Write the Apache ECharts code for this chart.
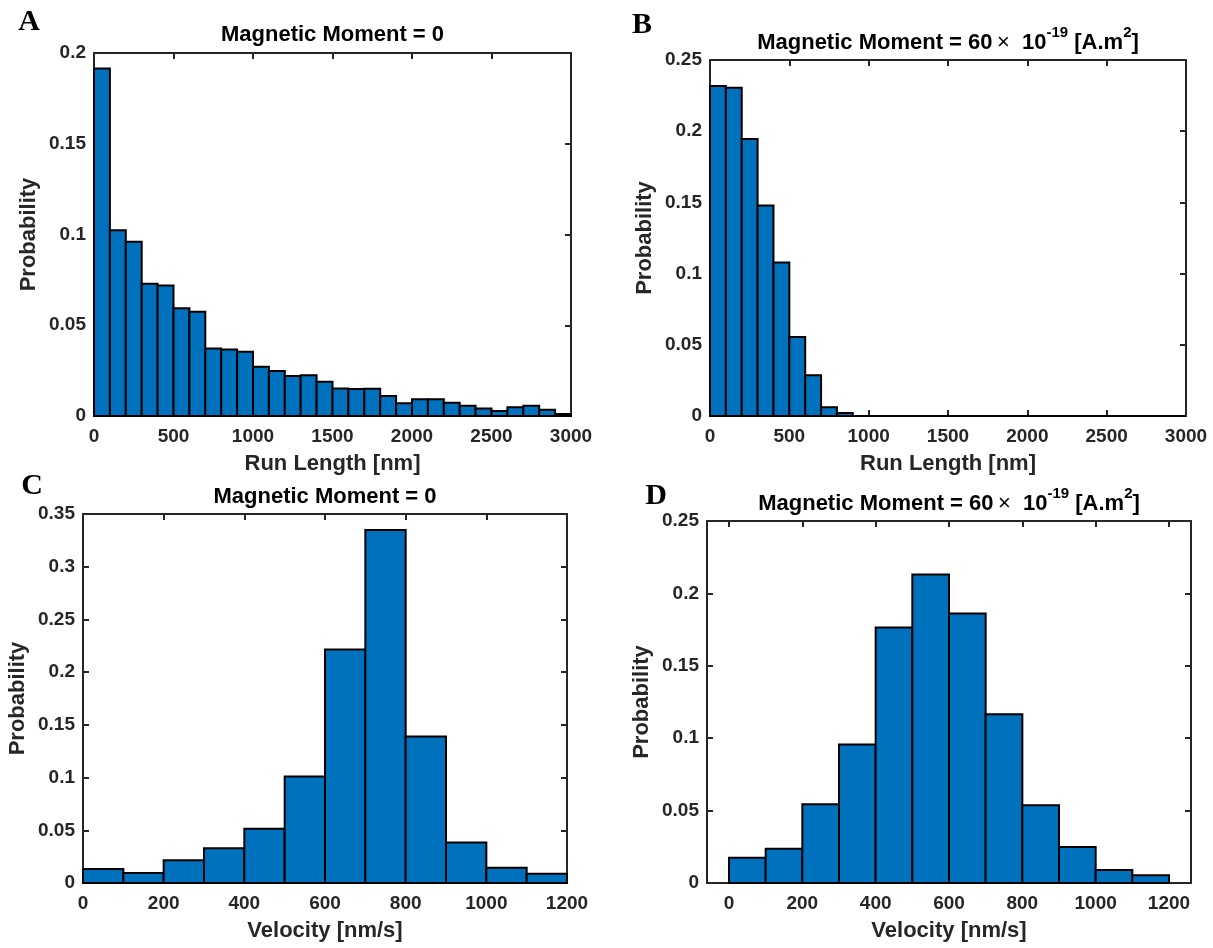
<!DOCTYPE html>
<html><head><meta charset="utf-8">
<script src="https://cdn.jsdelivr.net/npm/echarts@6/dist/echarts.min.js"></script>
<style>html,body{margin:0;padding:0;background:#fff}#c{width:1213px;height:948px}</style>
</head><body><div id="c"></div>
<script>
// ---- data ----
const binWidth = 100;
const runLengthProbA = [0.1914,0.1024,0.0960,0.0728,0.0719,0.0593,0.0574,0.0372,0.0367,0.0354,
  0.0272,0.0248,0.0220,0.0224,0.0189,0.0152,0.0149,0.0150,0.0110,0.0070,
  0.0092,0.0092,0.0073,0.0057,0.0042,0.0028,0.0048,0.0057,0.0035,0.0011];
const runLengthProbB = [0.2317,0.2306,0.1945,0.1478,0.1078,0.0555,0.0286,0.0061,0.0021,0,
  0,0,0,0,0,0,0,0,0,0, 0,0,0,0,0,0,0,0,0,0];
const velocityProbC = [0.0133,0.0095,0.0215,0.0329,0.0515,0.1011,0.2214,0.3348,0.1390,0.0385,0.0145,0.0088];
const velocityProbD = [0.0175,0.0237,0.0544,0.0956,0.1765,0.2131,0.1862,0.1166,0.0537,0.0249,0.0090,0.0053];
const runLengthTicks = [0,500,1000,1500,2000,2500,3000];
const velocityTicks = [0,200,400,600,800,1000,1200];
const titleZero = 'Magnetic Moment = 0';
const titleMag = '{n|Magnetic Moment = 60}{x|\u2009\u00d7}{n|  10}{s|-19}{n| [A.m}{s|2}{n|]}';

// ---- layout ----
const FONT = 'Liberation Sans, Arial, Helvetica, sans-serif';
const AX = '#262626';
const panels = [
  {left:94, top:53, width:477, height:363, data:runLengthProbA, xmin:0, xmax:3000, ticks:runLengthTicks, ymax:0.2, yint:0.05, xname:'Run Length [nm]', title:titleZero, letter:'A', lx:29, ly:22, ty:35},
  {left:710, top:60, width:476, height:356, data:runLengthProbB, xmin:0, xmax:3000, ticks:runLengthTicks, ymax:0.25, yint:0.05, xname:'Run Length [nm]', title:titleMag, letter:'B', lx:642, ly:25, ty:39.5},
  {left:83, top:514, width:484, height:369, data:velocityProbC, xmin:0, xmax:1200, ticks:velocityTicks, ymax:0.35, yint:0.05, xname:'Velocity [nm/s]', title:titleZero, letter:'C', lx:32, ly:486, ty:497},
  {left:707, top:521, width:484, height:362, data:velocityProbD, xmin:-60, xmax:1260, ticks:velocityTicks, ymax:0.25, yint:0.05, xname:'Velocity [nm/s]', title:titleMag, letter:'D', lx:656, ly:496, ty:500.5}
];

const grid = [], xAxis = [], yAxis = [], series = [], graphic = [];
const lineStyle = {color: AX, width: 2};
const tickStyle = {show: true, inside: true, length: 6, lineStyle: {color: AX, width: 2}};
const labelFmt = v => String(+v.toFixed(4));
panels.forEach((p, g) => {
  grid.push({left: p.left, top: p.top, width: p.width, height: p.height, containLabel: false});
  const xTick = Object.assign({}, tickStyle, {customValues: p.ticks});
  xAxis.push({gridIndex: g, type: 'value', min: p.xmin, max: p.xmax, position: 'bottom',
    axisLine: {show: true, onZero: false, lineStyle},
    axisTick: xTick, splitLine: {show: false},
    axisLabel: {show: true, customValues: p.ticks, formatter: labelFmt, margin: 11, color: AX, fontSize: 19, fontWeight: 'bold', fontFamily: FONT},
    name: p.xname, nameLocation: 'middle', nameGap: 37,
    nameTextStyle: {color: AX, fontSize: 22, fontWeight: 'bold', fontFamily: FONT}});
  xAxis.push({gridIndex: g, type: 'value', min: p.xmin, max: p.xmax, position: 'top',
    axisLine: {show: true, onZero: false, lineStyle},
    axisTick: xTick, splitLine: {show: false}, axisLabel: {show: false, customValues: p.ticks}});
  yAxis.push({gridIndex: g, type: 'value', min: 0, max: p.ymax, interval: p.yint, position: 'left',
    axisLine: {show: true, onZero: false, lineStyle},
    axisTick: tickStyle, splitLine: {show: false},
    axisLabel: {show: true, formatter: labelFmt, margin: 8, color: AX, fontSize: 19, fontWeight: 'bold', fontFamily: FONT, showMinLabel: true, showMaxLabel: true},
    name: 'Probability', nameLocation: 'middle', nameGap: 54, nameRotate: 90,
    nameTextStyle: {color: AX, fontSize: 22, fontWeight: 'bold', fontFamily: FONT}});
  yAxis.push({gridIndex: g, type: 'value', min: 0, max: p.ymax, interval: p.yint, position: 'right',
    axisLine: {show: true, onZero: false, lineStyle},
    axisTick: tickStyle, splitLine: {show: false}, axisLabel: {show: false}});
  series.push({type: 'custom', xAxisIndex: 2 * g, yAxisIndex: 2 * g, clip: false, z: 5,
    data: p.data.map((v, i) => [i * binWidth, (i + 1) * binWidth, v]),
    encode: {x: [0, 1], y: 2},
    renderItem: (params, api) => {
      const a = api.coord([api.value(0), api.value(2)]);
      const b = api.coord([api.value(1), 0]);
      return {type: 'rect', shape: {x: a[0], y: a[1], width: b[0] - a[0], height: b[1] - a[1]},
        style: {fill: '#0072BD', stroke: '#000', lineWidth: 2}};
    }});
  graphic.push({type: 'text', x: p.left + p.width / 2, y: p.ty, style: {
    text: p.title, align: 'center', verticalAlign: 'middle', fill: '#000',
    font: 'bold 22px ' + FONT,
    rich: {
      n: {fontSize: 22, fontWeight: 'bold', fontFamily: FONT, fill: '#000', lineHeight: 29, verticalAlign: 'bottom'},
      x: {fontSize: 22, fontWeight: 'normal', fontFamily: FONT, fill: '#000', lineHeight: 29, verticalAlign: 'bottom'},
      s: {fontSize: 15, fontWeight: 'bold', fontFamily: FONT, fill: '#000', lineHeight: 16, verticalAlign: 'top'}
    }}});
  graphic.push({type: 'text', x: p.lx, y: p.ly, style: {text: p.letter, align: 'center', verticalAlign: 'middle',
    fill: '#000', font: 'bold 30px Liberation Serif, Times New Roman, serif'}});
});

const chart = echarts.init(document.getElementById('c'), null, {renderer: 'canvas'});
chart.setOption({animation: false, backgroundColor: '#fff', grid, xAxis, yAxis, series, graphic});
</script>
</body></html>
